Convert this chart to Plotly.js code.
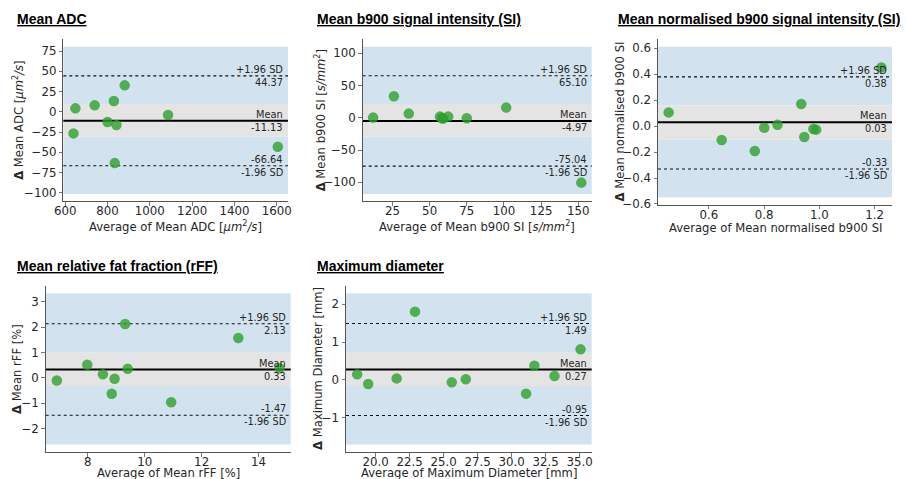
<!DOCTYPE html>
<html><head><meta charset="utf-8">
<script src="https://cdn.plot.ly/plotly-3.0.1.min.js"></script>
<style>html,body{margin:0;padding:0;background:#fff}#chart{width:906px;height:479px}</style>
</head><body><div id="chart"></div>
<script>
// ---------- data ----------
const panelTitles = ["Mean ADC", "Mean b900 signal intensity (SI)", "Mean normalised b900 signal intensity (SI)",
  "Mean relative fat fraction (rFF)", "Maximum diameter"];
const xTitles = ["Average of Mean ADC [<i>μm</i><sup>2</sup><i>/s</i>]",
  "Average of Mean b900 SI [<i>s/mm</i><sup>2</sup>]",
  "Average of Mean normalised b900 SI",
  "Average of Mean rFF [%]",
  "Average of Maximum Diameter [mm]"];
const yTitles = ["<b>Δ</b> Mean ADC [<i>μm</i><sup>2</sup><i>/s</i>]",
  "<b>Δ</b> Mean b900 SI [<i>s/mm</i><sup>2</sup>]",
  "<b>Δ</b> Mean normalised b900 SI",
  "<b>Δ</b> Mean rFF [%]",
  "<b>Δ</b> Maximum Diameter [mm]"];

const adcAvg  = [639, 648, 739, 800, 830, 842, 834, 881, 1086, 1605];
const adcDiff = [-26.7, 4.2, 7.9, -12.7, 13.2, -16.4, -63.4, 32.6, -4.0, -43.2];
const siAvg   = [12, 26, 36, 57, 58.5, 59, 62.5, 75, 101.5, 152];
const siDiff  = [0.3, 33.3, 6.5, 1.8, -0.8, -1.0, 1.8, -0.8, 15.8, -100.5];
const nsiAvg  = [0.454, 0.646, 0.766, 0.800, 0.848, 0.934, 0.945, 0.978, 0.988, 1.224];
const nsiDiff = [0.106, -0.107, -0.192, -0.012, 0.011, 0.171, -0.084, -0.022, -0.027, 0.453];
const rffAvg  = [6.91, 7.98, 8.53, 8.84, 8.94, 9.31, 9.40, 10.93, 13.29, 14.74];
const rffDiff = [-0.10, 0.52, 0.14, -0.62, -0.03, 2.12, 0.36, -0.96, 1.57, 0.38];
const diaAvg  = [18.65, 19.46, 21.55, 22.90, 25.60, 26.63, 31.06, 31.67, 33.15, 35.06];
const diaDiff = [0.142, -0.115, 0.035, 1.805, -0.07, 0.01, -0.37, 0.37, 0.097, 0.805];

const meanDiff = [-11.13, -4.97, 0.03, 0.33, 0.27];
const upperLoA = [44.37, 65.10, 0.38, 2.13, 1.49];
const lowerLoA = [-66.64, -75.04, -0.33, -1.47, -0.95];
const upperCIHigh = [80.4, 110.3, 0.613, 3.33, 2.29];
const lowerCILow  = [-101.6, -118.1, -0.549, -2.62, -1.717];
const meanCIHigh  = [9.5, 21.4, 0.160, 0.99, 0.717];
const meanCILow   = [-30.8, -29.2, -0.102, -0.32, -0.168];

const xTick0 = [600, 25, 0.6, 8, 20];
const xDtick = [200, 25, 0.2, 2, 2.5];
const xFmt   = ["d", "d", ".1f", "d", ".1f"];
const yTick0 = [-100, -100, -0.6, -2, -1];
const yDtick = [25, 50, 0.2, 1, 1];
const yFmt   = ["d", "d", ".1f", "d", "d"];

// ---------- layout geometry (pixels) ----------
const W = 906, H = 479;
const boxes = [
  {x0: 63.3, x1: 288, y0: 39.3, y1: 201.4, tx: 16, ty: 19, ytx: 18.5, xty: 225.5},
  {x0: 362.7, x1: 591.7, y0: 39.3, y1: 201.3, tx: 316, ty: 19, ytx: 320, xty: 226},
  {x0: 658, x1: 892, y0: 39.1, y1: 204.9, tx: 617, ty: 19, ytx: 619.5, xty: 228.5},
  {x0: 45.7, x1: 290.7, y0: 285.7, y1: 452.1, tx: 16, ty: 266, ytx: 17, xty: 473},
  {x0: 346, x1: 591.7, y0: 285.8, y1: 452, tx: 316, ty: 266, ytx: 318, xty: 473}
];
const xs = [adcAvg, siAvg, nsiAvg, rffAvg, diaAvg];
const ys = [adcDiff, siDiff, nsiDiff, rffDiff, diaDiff];

const tickFont = {family: "DejaVu Sans", size: 11.8, color: "#262626"};
const titleFont = {family: "DejaVu Sans", size: 11.6, color: "#262626"};
const noteFont = {family: "DejaVu Sans", size: 9.8, color: "#262626"};

const data = [], shapes = [], annotations = [];
const layout = {
  width: W, height: H, margin: {l: 0, r: 0, t: 0, b: 0},
  paper_bgcolor: "#fff", plot_bgcolor: "rgba(0,0,0,0)", showlegend: false,
  shapes, annotations
};

for (let i = 0; i < 5; i++) {
  const b = boxes[i];
  const n = i === 0 ? "" : String(i + 1);
  const xa = "x" + n, ya = "y" + n;
  const xmin = Math.min(...xs[i]), xmax = Math.max(...xs[i]);
  const xpad = 0.05 * (xmax - xmin);
  const ypad = 0.05 * (upperCIHigh[i] - lowerCILow[i]);
  layout["xaxis" + n] = {
    domain: [b.x0 / W, b.x1 / W], anchor: ya,
    range: [xmin - xpad, xmax + xpad],
    tickmode: "linear", tick0: xTick0[i], dtick: xDtick[i], tickformat: xFmt[i],
    ticks: "outside", ticklen: 3.5, tickwidth: 0.8, tickcolor: "#555", ticklabelstandoff: -5,
    showline: true, linecolor: "#555", linewidth: 1, showgrid: false, zeroline: false,
    tickfont: tickFont, automargin: false
  };
  layout["yaxis" + n] = {
    domain: [1 - b.y1 / H, 1 - b.y0 / H], anchor: xa,
    range: [lowerCILow[i] - ypad, upperCIHigh[i] + ypad],
    tickmode: "linear", tick0: yTick0[i], dtick: yDtick[i], tickformat: yFmt[i],
    ticks: "outside", ticklen: 3.5, tickwidth: 0.8, tickcolor: "#555",
    showline: true, linecolor: "#555", linewidth: 1, showgrid: false, zeroline: false,
    tickfont: tickFont, automargin: false
  };
  const xd = xa + " domain";
  // confidence bands
  shapes.push({type: "rect", xref: xd, yref: ya, x0: 0, x1: 1, y0: meanCIHigh[i], y1: upperCIHigh[i],
    fillcolor: "#d2e3ef", line: {width: 0}, layer: "below"});
  shapes.push({type: "rect", xref: xd, yref: ya, x0: 0, x1: 1, y0: lowerCILow[i], y1: meanCILow[i],
    fillcolor: "#d2e3ef", line: {width: 0}, layer: "below"});
  shapes.push({type: "rect", xref: xd, yref: ya, x0: 0, x1: 1, y0: meanCILow[i], y1: meanCIHigh[i],
    fillcolor: "#e4e4e4", line: {width: 0}, layer: "below"});
  // lines
  shapes.push({type: "line", xref: xd, yref: ya, x0: 0, x1: 1, y0: meanDiff[i], y1: meanDiff[i],
    line: {color: "#000", width: 2}, layer: "below"});
  [upperLoA[i], lowerLoA[i]].forEach(v => shapes.push({type: "line", xref: xd, yref: ya, x0: 0, x1: 1,
    y0: v, y1: v, line: {color: "#111", width: 1.1, dash: "dot"}, layer: "below"}));
  // labels
  const lab = (txt, y, anchor, shift) => annotations.push({xref: xd, yref: ya, x: 1, y: y, xanchor: "right",
    yanchor: anchor, xshift: -4, yshift: shift, text: txt, showarrow: false, font: noteFont, borderpad: 0});
  lab("+1.96 SD", upperLoA[i], "bottom", 0);
  lab(upperLoA[i].toFixed(2), upperLoA[i], "top", 0);
  lab("Mean", meanDiff[i], "bottom", 0);
  lab(meanDiff[i].toFixed(2), meanDiff[i], "top", 0);
  lab(lowerLoA[i].toFixed(2), lowerLoA[i], "bottom", 0);
  lab("-1.96 SD", lowerLoA[i], "top", 0);
  // axis titles
  annotations.push({xref: "paper", yref: "paper", x: (b.x0 + b.x1) / 2 / W, y: 1 - b.xty / H,
    xanchor: "center", yanchor: "middle", text: xTitles[i], showarrow: false, font: titleFont, borderpad: 0});
  annotations.push({xref: "paper", yref: "paper", x: b.ytx / W, y: 1 - (b.y0 + b.y1) / 2 / H,
    xanchor: "center", yanchor: "middle", textangle: -90, text: yTitles[i], showarrow: false,
    font: titleFont, borderpad: 0});
  // panel title
  annotations.push({xref: "paper", yref: "paper", x: b.tx / W, y: 1 - b.ty / H, xanchor: "left", yanchor: "middle",
    text: "<u>" + panelTitles[i] + "</u>", showarrow: false, borderpad: 0,
    font: {family: "Liberation Sans", size: 14.0, color: "#000", weight: "bold"}});
  // points
  data.push({type: "scatter", mode: "markers", x: xs[i], y: ys[i], xaxis: xa, yaxis: ya,
    marker: {size: 10.5, color: "rgba(44,160,44,0.8)", line: {width: 0}}, hoverinfo: "x+y"});
}

Plotly.newPlot("chart", data, layout, {staticPlot: true});
</script>
</body></html>
